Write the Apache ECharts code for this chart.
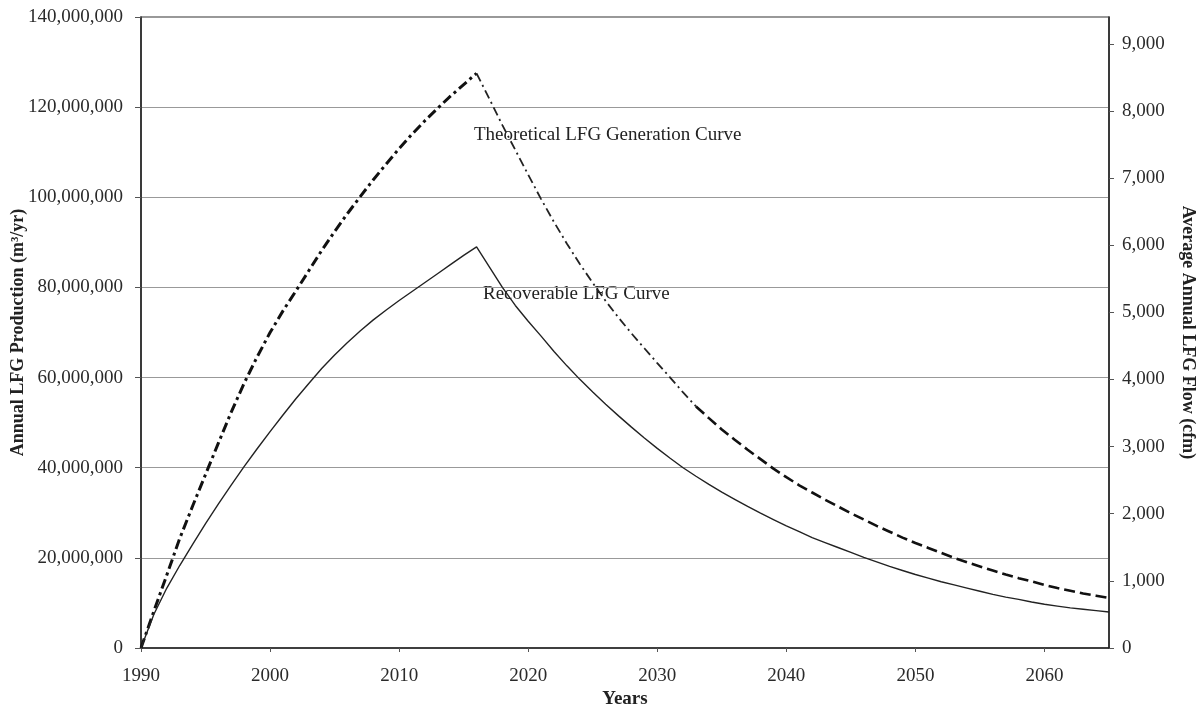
<!DOCTYPE html>
<html>
<head>
<meta charset="utf-8">
<script src="https://cdn.jsdelivr.net/npm/echarts@6/dist/echarts.min.js"></script>
<style>
html,body{margin:0;padding:0;background:#fff;}
#c{width:1203px;height:707px;}
</style>
</head>
<body>
<div id="c"></div>
<script>
// Years (x values)
const years = [1990,1991,1992,1993,1994,1995,1996,1997,1998,1999,2000,2001,2002,2003,2004,2005,2006,2007,2008,2009,2010,2011,2012,2013,2014,2015,2016,2017,2018,2019,2020,2021,2022,2023,2024,2025,2026,2027,2028,2029,2030,2031,2032,2033,2034,2035,2036,2037,2038,2039,2040,2041,2042,2043,2044,2045,2046,2047,2048,2049,2050,2051,2052,2053,2054,2055,2056,2057,2058,2059,2060,2061,2062,2063,2064,2065];

// Theoretical LFG Generation Curve (m3/yr)
const theoretical = [0,8200000,16200000,24300000,31500000,38500000,45500000,52400000,58800000,64600000,70000000,74800000,79200000,83700000,88200000,92400000,96400000,100200000,103900000,107400000,110800000,114000000,117000000,119800000,122500000,125000000,127500000,121800000,116000000,110500000,105000000,99600000,94500000,89700000,85200000,81000000,77000000,73300000,69800000,66500000,63200000,60000000,56700000,53600000,51000000,48500000,46200000,44000000,41900000,39800000,37900000,36100000,34500000,32900000,31400000,29900000,28500000,27100000,25800000,24500000,23300000,22200000,21100000,20000000,19000000,18100000,17200000,16300000,15500000,14800000,14000000,13300000,12700000,12100000,11600000,11100000];

// Recoverable LFG Curve (m3/yr)
const recoverable = [0,7500000,13300000,18300000,23000000,27600000,32000000,36200000,40300000,44200000,48000000,51700000,55300000,58700000,62000000,65000000,67800000,70400000,72800000,75000000,77100000,79100000,81100000,83100000,85100000,87100000,89000000,84500000,80000000,76000000,72500000,69200000,65800000,62600000,59600000,56800000,54100000,51500000,49000000,46600000,44300000,42100000,40000000,38100000,36300000,34600000,33000000,31400000,29900000,28500000,27100000,25800000,24500000,23400000,22300000,21200000,20100000,19100000,18100000,17200000,16300000,15500000,14700000,14000000,13300000,12600000,11900000,11300000,10800000,10200000,9700000,9300000,8900000,8600000,8300000,8000000];

// Axis ticks
const leftTicks = [0,20000000,40000000,60000000,80000000,100000000,120000000,140000000];
const rightTicks = [0,1000,2000,3000,4000,5000,6000,7000,8000,9000];
const xTicks = [1990,2000,2010,2020,2030,2040,2050,2060];
const peakYear = 2016;

const FONT = 'Liberation Serif';
const fmt = v => Number(v).toLocaleString('en-US');

const risePts = years.map((y,i)=>[y,theoretical[i]]).filter(p=>p[0]<=peakYear);
const fallPts = years.map((y,i)=>[y,theoretical[i]]).filter(p=>p[0]>=peakYear && p[0]<=2033);
const tailPts = years.map((y,i)=>[y,theoretical[i]]).filter(p=>p[0]>=2033);

const chart = echarts.init(document.getElementById('c'), null, {renderer:'canvas'});
chart.setOption({
  backgroundColor:'#fff',
  animation:false,
  grid:{left:141,right:94,top:17,bottom:59,outerBoundsMode:'none',containLabel:false,
        show:true,borderColor:'#333',borderWidth:1.2,backgroundColor:'transparent'},
  xAxis:{
    type:'value', min:xTicks[0], max:2065, interval:10,
    name:'Years', nameLocation:'middle', nameGap:42, nameMoveOverlap:false,
    nameTextStyle:{fontFamily:FONT,fontWeight:'bold',fontSize:19,color:'#222'},
    axisLine:{lineStyle:{color:'#222',width:1.5}},
    axisTick:{show:true,length:4,lineStyle:{color:'#555'}},
    axisLabel:{fontFamily:FONT,fontSize:19,color:'#2a2a2a',margin:19,showMaxLabel:false,
      formatter:v => xTicks.includes(v) ? String(v) : ''},
    splitLine:{show:false}
  },
  yAxis:[
    {
      type:'value', min:leftTicks[0], max:leftTicks[leftTicks.length-1], interval:20000000,
      name:'Annual LFG Production (m³/yr)', nameLocation:'middle', nameGap:114, nameRotate:90, nameMoveOverlap:false,
      nameTextStyle:{fontFamily:FONT,fontWeight:'bold',fontSize:18,color:'#222'},
      axisLine:{show:true,lineStyle:{color:'#222',width:1.5}},
      axisTick:{show:true,length:6,lineStyle:{color:'#555'}},
      axisLabel:{fontFamily:FONT,fontSize:19,color:'#2a2a2a',margin:18,formatter:v=>fmt(v)},
      splitLine:{show:true,lineStyle:{color:'#999',width:1.2}}
    },
    {
      type:'value', min:rightTicks[0], max:9400, interval:1000, position:'right',
      name:'Average Annual LFG Flow (cfm)', nameLocation:'middle', nameGap:70, nameRotate:-90, nameMoveOverlap:false,
      nameTextStyle:{fontFamily:FONT,fontWeight:'bold',fontSize:18,color:'#222'},
      axisLine:{show:true,lineStyle:{color:'#222',width:1.5}},
      axisTick:{show:true,length:5,lineStyle:{color:'#555'}},
      axisLabel:{fontFamily:FONT,fontSize:19,color:'#2a2a2a',margin:13,showMaxLabel:false,
        formatter:v => rightTicks.includes(v) ? fmt(v) : ''},
      splitLine:{show:false}
    }
  ],
  series:[
    {
      name:'Theoretical LFG Generation Curve', type:'line', yAxisIndex:0,
      data: risePts, showSymbol:false,
      lineStyle:{color:'#111',width:3,type:[10,4,3,4]}
    },
    {
      name:'Theoretical LFG Generation Curve (decline)', type:'line', yAxisIndex:0,
      data: fallPts, showSymbol:false,
      lineStyle:{color:'#222',width:1.8,type:[9,4,2,4]}
    },
    {
      name:'Theoretical LFG Generation Curve (tail)', type:'line', yAxisIndex:0,
      data: tailPts, showSymbol:false,
      lineStyle:{color:'#111',width:2.6,type:[11,5]}
    },
    {
      name:'Recoverable LFG Curve', type:'line', yAxisIndex:0,
      data: years.map((y,i)=>[y,recoverable[i]]), showSymbol:false,
      lineStyle:{color:'#222',width:1.4}
    }
  ],
  graphic:[
    {type:'text', left:474, top:126, style:{text:'Theoretical LFG Generation Curve', font:'19px "Liberation Serif"', fill:'#222'}},
    {type:'text', left:483, top:285, style:{text:'Recoverable LFG Curve', font:'19px "Liberation Serif"', fill:'#222'}}
  ]
});
</script>
</body>
</html>
